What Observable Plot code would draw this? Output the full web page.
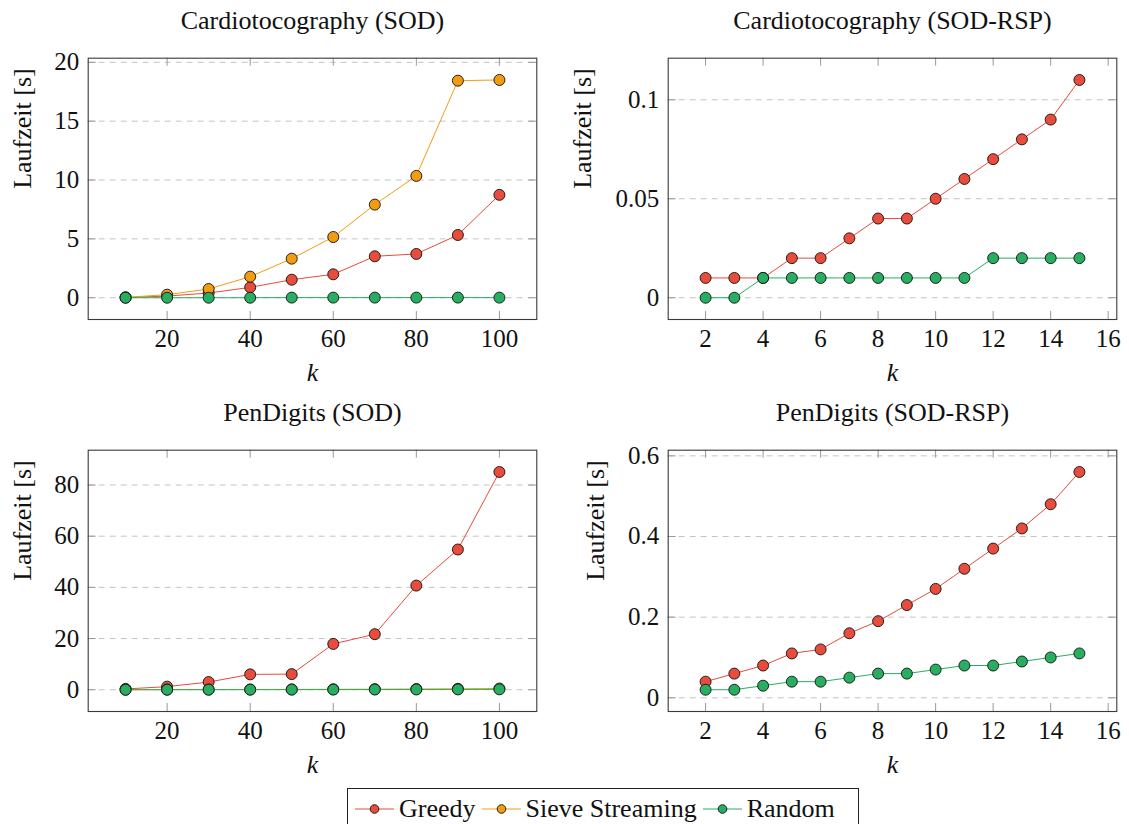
<!DOCTYPE html>
<html>
<head>
<meta charset="utf-8">
<script src="https://cdn.jsdelivr.net/npm/d3@7"></script>
<script src="https://cdn.jsdelivr.net/npm/@observablehq/plot@0.6"></script>
<style>
  html, body { margin: 0; padding: 0; background: #fff; }
  #chart { position: relative; width: 1129px; height: 824px; overflow: hidden; }
  #chart svg.panel { position: absolute; overflow: visible; }
  #legend { position: absolute; left: 347px; top: 788px; width: 512px; height: 42px; border: 1px solid #222; background: #fff; display: flex; align-items: center; padding-left: 7px; box-sizing: border-box; color: #111; }
  #legend .item { display: flex; align-items: center; white-space: nowrap; }
  #legend svg { display: block; margin-right: 5px; }
</style>
</head>
<body>
<div id="chart"></div>
<script>
const serifFont = '"Liberation Serif", "DejaVu Serif", serif';

// Algorithms and their colours
const algorithms = ["Greedy", "Sieve Streaming", "Random"];
const colors = ["#e74c3c", "#f39c12", "#27ae60"];

// Cardinality constraint k
const kSOD = [10, 20, 30, 40, 50, 60, 70, 80, 90, 100];
const kRSP = [2, 3, 4, 5, 6, 7, 8, 9, 10, 11, 12, 13, 14, 15];

// Cardiotocography (SOD), runtime in seconds
const cardioSodGreedy = [0.02, 0.14, 0.4, 0.88, 1.53, 1.99, 3.52, 3.72, 5.33, 8.74];
const cardioSodSieve = [0.03, 0.26, 0.74, 1.79, 3.32, 5.16, 7.91, 10.35, 18.44, 18.5];
const cardioSodRandom = [0, 0, 0, 0, 0.01, 0.01, 0.01, 0.01, 0.01, 0.01];

// Cardiotocography (SOD-RSP)
const cardioRspGreedy = [0.01, 0.01, 0.01, 0.02, 0.02, 0.03, 0.04, 0.04, 0.05, 0.06, 0.07, 0.08, 0.09, 0.11];
const cardioRspRandom = [0, 0, 0.01, 0.01, 0.01, 0.01, 0.01, 0.01, 0.01, 0.01, 0.02, 0.02, 0.02, 0.02];

// PenDigits (SOD)
const penSodGreedy = [0.3, 1.2, 3.0, 6.0, 6.1, 17.9, 21.7, 40.7, 54.8, 85.1];
const penSodSieve = [0.02, 0.05, 0.08, 0.1, 0.13, 0.17, 0.22, 0.28, 0.36, 0.46];
const penSodRandom = [0, 0.01, 0.02, 0.03, 0.04, 0.06, 0.08, 0.1, 0.12, 0.15];

// PenDigits (SOD-RSP)
const penRspGreedy = [0.04, 0.06, 0.08, 0.11, 0.12, 0.16, 0.19, 0.23, 0.27, 0.32, 0.37, 0.42, 0.48, 0.56];
const penRspRandom = [0.02, 0.02, 0.03, 0.04, 0.04, 0.05, 0.06, 0.06, 0.07, 0.08, 0.08, 0.09, 0.1, 0.11];

// Tick labels
const xTicksSOD = [20, 40, 60, 80, 100];
const xTicksRSP = [2, 4, 6, 8, 10, 12, 14, 16];
const yTicksCardioSod = [0, 5, 10, 15, 20];
const yTicksCardioRsp = [0, 0.05, 0.1];
const yTicksPenSod = [0, 20, 40, 60, 80];
const yTicksPenRsp = [0, 0.2, 0.4, 0.6];

const xLabel = "k";
const yLabel = "Laufzeit [s]";

// Axis limits widened by 10% of the data range on each side
function enlarge(values) {
  const [lo, hi] = d3.extent(values);
  const pad = (hi - lo) * 0.1;
  return [lo - pad, hi + pad];
}

function rows(k, seriesByName) {
  const out = [];
  for (const [name, vals] of Object.entries(seriesByName)) {
    vals.forEach((t, i) => out.push({ k: k[i], t, algo: name }));
  }
  return out;
}

const chart = document.getElementById("chart");
const txt = { fontFamily: serifFont, fill: "#111" };

function panel({ title, k, series, xTicks, yTicks, left, top, width, marginLeft, marginRight, yLabelDx }) {
  const data = rows(k, series);
  const height = 400;
  const marginTop = 57.7, marginBottom = 81;
  const innerH = height - marginTop - marginBottom;
  const innerW = width - marginLeft - marginRight;
  const tickLen = 8;
  const marks = [
    Plot.ruleY(yTicks, { y: d => d, stroke: "#c4c4c4", strokeWidth: 1, strokeDasharray: "6,5" }),
    // inward ticks on all four sides
    Plot.tickX(xTicks, { x: d => d, insetTop: innerH - tickLen, stroke: "#999" }),
    Plot.tickX(xTicks, { x: d => d, insetBottom: innerH - tickLen, stroke: "#999" }),
    Plot.tickY(yTicks, { y: d => d, insetRight: innerW - tickLen, stroke: "#999" }),
    Plot.tickY(yTicks, { y: d => d, insetLeft: innerW - tickLen, stroke: "#999" })
  ];
  for (const name of Object.keys(series)) {
    const c = colors[algorithms.indexOf(name)];
    const d = data.filter(r => r.algo === name);
    marks.push(Plot.line(d, { x: "k", y: "t", stroke: c, strokeWidth: 1 }));
    marks.push(Plot.dot(d, { x: "k", y: "t", fill: c, stroke: "#111", strokeWidth: 0.9, r: 5.5 }));
  }
  marks.push(
    Plot.frame({ stroke: "#3a3a3a", strokeWidth: 1.1 }),
    Plot.text(xTicks, { ...txt, x: d => d, frameAnchor: "bottom", dy: 19, lineAnchor: "middle", fontSize: 25, text: d => String(d) }),
    Plot.text(yTicks, { ...txt, y: d => d, frameAnchor: "left", dx: -9, textAnchor: "end", lineAnchor: "middle", fontSize: 25, text: d => String(d) }),
    Plot.text([title], { ...txt, frameAnchor: "top", dy: -37.7, lineAnchor: "middle", fontSize: 26 }),
    Plot.text([xLabel], { ...txt, frameAnchor: "bottom", dy: 53, lineAnchor: "middle", fontSize: 26, fontStyle: "italic" }),
    Plot.text([yLabel], { ...txt, frameAnchor: "left", dx: yLabelDx, rotate: -90, lineAnchor: "middle", fontSize: 26 })
  );
  const svg = Plot.plot({
    width, height, marginTop, marginBottom, marginLeft, marginRight,
    style: { fontFamily: serifFont, background: "transparent", overflow: "visible" },
    x: { domain: enlarge(k), axis: null },
    y: { domain: enlarge(data.map(r => r.t)), axis: null },
    marks
  });
  svg.classList.add("panel");
  svg.style.left = left + "px";
  svg.style.top = top + "px";
  chart.appendChild(svg);
}

const leftPanel = { left: 0, width: 560, marginLeft: 87.7, marginRight: 23.7 };
const rightPanel = { left: 560, width: 569, marginLeft: 107.7, marginRight: 12.7 };

panel({ ...leftPanel, top: 0, title: "Cardiotocography (SOD)", k: kSOD,
  series: { "Greedy": cardioSodGreedy, "Sieve Streaming": cardioSodSieve, "Random": cardioSodRandom },
  xTicks: xTicksSOD, yTicks: yTicksCardioSod, yLabelDx: -66 });
panel({ ...rightPanel, top: 0, title: "Cardiotocography (SOD-RSP)", k: kRSP,
  series: { "Greedy": cardioRspGreedy, "Random": cardioRspRandom },
  xTicks: xTicksRSP, yTicks: yTicksCardioRsp, yLabelDx: -86 });
panel({ ...leftPanel, top: 392, title: "PenDigits (SOD)", k: kSOD,
  series: { "Greedy": penSodGreedy, "Sieve Streaming": penSodSieve, "Random": penSodRandom },
  xTicks: xTicksSOD, yTicks: yTicksPenSod, yLabelDx: -66 });
panel({ ...rightPanel, top: 392, title: "PenDigits (SOD-RSP)", k: kRSP,
  series: { "Greedy": penRspGreedy, "Random": penRspRandom },
  xTicks: xTicksRSP, yTicks: yTicksPenRsp, yLabelDx: -73 });

// Legend: line + marker swatch per algorithm
const legend = document.createElement("div");
legend.id = "legend";
algorithms.forEach((name, i) => {
  const item = document.createElement("div");
  item.className = "item";
  item.innerHTML =
    `<svg width="39" height="14" viewBox="0 0 39 14">` +
    `<line x1="0" y1="7" x2="39" y2="7" stroke="${colors[i]}" stroke-width="1"/>` +
    `<circle cx="19.5" cy="7" r="4.3" fill="${colors[i]}" stroke="#111" stroke-width="0.9"/></svg>`;
  const label = document.createElement("span");
  label.textContent = name;
  label.style.fontFamily = serifFont;
  label.style.fontSize = "26px";
  label.style.marginRight = "6px";
  item.appendChild(label);
  legend.appendChild(item);
});
chart.appendChild(legend);
</script>
</body>
</html>
